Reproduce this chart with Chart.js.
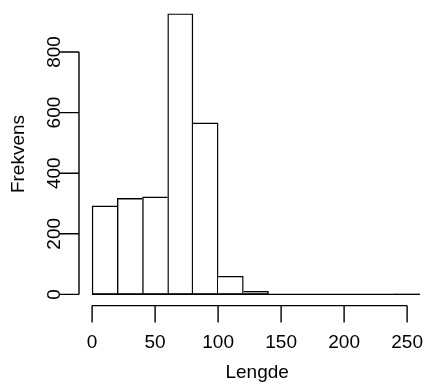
<!DOCTYPE html>
<html>
<head>
<meta charset="utf-8">
<script src="https://cdn.jsdelivr.net/npm/chart.js@4/dist/chart.umd.min.js"></script>
<style>
  html, body { margin: 0; padding: 0; background: #fff; }
  #wrap { width: 425px; height: 387px; }
</style>
</head>
<body>
<div id="wrap"><canvas id="hist"></canvas></div>
<script>
// histogram bins (Lengde) and counts (Frekvens)
const binStart = [0, 20, 40, 60, 80, 100, 120, 140, 160, 180, 200, 220, 240];
const binWidth = 20;
const counts = [292, 317, 322, 926, 566, 60, 10, 0, 0, 0, 0, 0, 2];
const xTicks = [0, 50, 100, 150, 200, 250];
const yTicks = [0, 200, 400, 600, 800];
const xTitle = "Lengde";
const yTitle = "Frekvens";

const font = '19px "Liberation Sans", Arial, sans-serif';
const strek = 1.4;

// one shared edge per neighbour pair, drawn by the taller bar
function sideWidths(ctx) {
  const i = ctx.dataIndex;
  const h = counts;
  return {
    top: strek,
    bottom: strek,
    left: (i === 0 || h[i - 1] < h[i]) ? strek : 0,
    right: (i === h.length - 1 || h[i + 1] <= h[i]) ? strek : 0
  };
}

const akser = {
  id: "akser",
  afterDraw(chart) {
    const c = chart.ctx;
    const x = chart.scales.x;
    const y = chart.scales.y;
    const venstre = chart.chartArea.left;
    const bunn = chart.chartArea.bottom;
    c.save();
    c.strokeStyle = "#000";
    c.fillStyle = "#000";
    c.lineWidth = strek;
    c.font = font;

    // x-akse
    c.beginPath();
    c.moveTo(x.getPixelForValue(xTicks[0]), bunn);
    c.lineTo(x.getPixelForValue(xTicks[xTicks.length - 1]), bunn);
    xTicks.forEach((v) => {
      const px = x.getPixelForValue(v);
      c.moveTo(px, bunn);
      c.lineTo(px, bunn + 17);
    });
    c.stroke();
    c.textAlign = "center";
    c.textBaseline = "alphabetic";
    xTicks.forEach((v) => {
      c.fillText(String(v), x.getPixelForValue(v), bunn + 42);
    });
    c.fillText(xTitle, x.getPixelForValue(131), bunn + 72);

    // y-akse
    c.beginPath();
    c.moveTo(venstre, y.getPixelForValue(yTicks[0]));
    c.lineTo(venstre, y.getPixelForValue(yTicks[yTicks.length - 1]));
    yTicks.forEach((v) => {
      const py = y.getPixelForValue(v);
      c.moveTo(venstre, py);
      c.lineTo(venstre - 20, py);
    });
    c.stroke();
    yTicks.forEach((v) => {
      c.save();
      c.translate(venstre - 19, y.getPixelForValue(v));
      c.rotate(-Math.PI / 2);
      c.fillText(String(v), 0, 0);
      c.restore();
    });
    c.save();
    c.translate(24, (chart.chartArea.top + bunn) / 2);
    c.rotate(-Math.PI / 2);
    c.fillText(yTitle, 0, 0);
    c.restore();
    c.restore();
  }
};

new Chart(document.getElementById("hist"), {
  data: {
    datasets: [
      {
        type: "bar",
        order: 2,
        data: binStart.map((b, i) => ({ x: b + binWidth / 2, y: counts[i] })),
        backgroundColor: "#fff",
        borderColor: "#000",
        borderWidth: sideWidths,
        borderSkipped: false,
        barPercentage: 1,
        categoryPercentage: 1
      },
      {
        // nullinje for tomme klasser
        type: "line",
        order: 1,
        data: [
          { x: binStart[0], y: 0 },
          { x: binStart[binStart.length - 1] + binWidth, y: 0 }
        ],
        borderColor: "#000",
        borderWidth: strek,
        pointRadius: 0
      }
    ]
  },
  options: {
    responsive: true,
    maintainAspectRatio: false,
    animation: false,
    layout: { padding: { left: 79, right: 0, top: 2.5, bottom: 81.4 } },
    plugins: { legend: { display: false }, tooltip: { enabled: false } },
    scales: {
      x: { type: "linear", min: -10.4, max: 264.2, offset: false, display: false },
      y: { type: "linear", min: -37, max: 963.3, display: false }
    }
  },
  plugins: [akser]
});
</script>
</body>
</html>
